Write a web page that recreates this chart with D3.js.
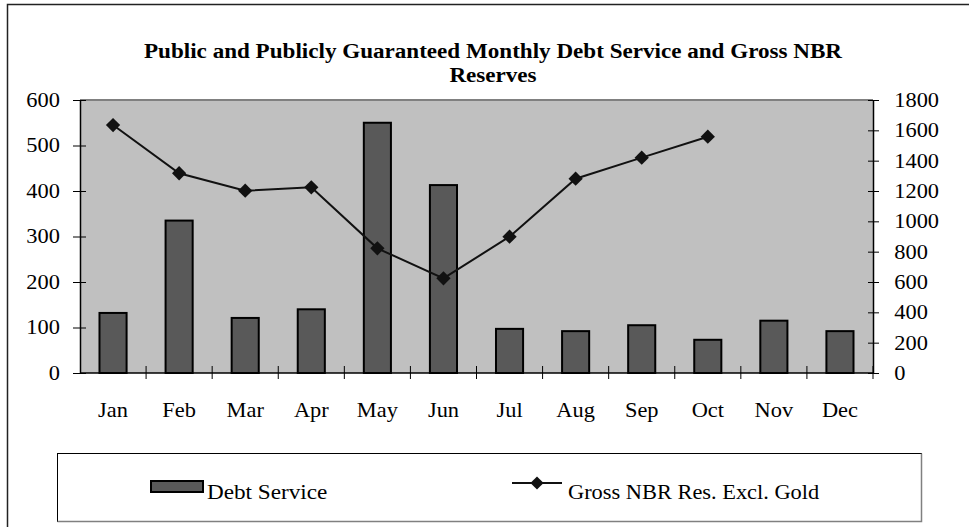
<!DOCTYPE html>
<html><head>
<meta charset="utf-8">
<script src="https://d3js.org/d3.v7.min.js"></script>
<style>
  body { margin: 0; background: #fff; }
  svg text { font-family: 'Liberation Serif', 'Times New Roman', serif; }
</style>
</head>
<body>
<svg id="chart" width="969" height="527"></svg>
<script>
// chart data
const months = ["Jan", "Feb", "Mar", "Apr", "May", "Jun", "Jul", "Aug", "Sep", "Oct", "Nov", "Dec"];
const debtService = [132, 335, 121, 140, 550, 413, 97, 92, 105, 73, 115, 92];
const reserves = [1635, 1317, 1202, 1224, 822, 624, 899, 1281, 1420, 1558, null, null];
const leftTicks = [0, 100, 200, 300, 400, 500, 600];
const rightTicks = [0, 200, 400, 600, 800, 1000, 1200, 1400, 1600, 1800];
const titleLines = ["Public and Publicly Guaranteed Monthly Debt Service and Gross NBR", "Reserves"];
const legendNames = ["Debt Service", "Gross NBR Res. Excl. Gold"];

let svg = d3.select("svg#chart");
let plot = {left: 80, right: 873, top: 100, bottom: 373};
let sx = 1.12; // text in the picture is a bit wide
let serif = "'Liberation Serif', 'Times New Roman', serif";

function serifText(sel, size) {
    return sel.attr("font-family", serif)
        .style("font-family", serif)
        .style("font-size", size + "px");
}

// outer frame (runs off the right/bottom of the picture)
svg.append("rect")
    .attr("x", 7.5).attr("y", 4.5)
    .attr("width", 1000).attr("height", 600)
    .attr("fill", "none").attr("stroke", "#222").attr("stroke-width", 1.5);

// title
titleLines.forEach((t, i) => {
    let tt = svg.append("g")
        .attr("transform", "translate(493," + (58 + i * 24) + ") scale(1.1,1)")
        .append("text")
        .attr("text-anchor", "middle")
        .style("font-weight", "bold")
        .text(t);
    serifText(tt, 21);
});

let x = d3.scaleBand().domain(months).range([plot.left, plot.right]);
let yLeft = d3.scaleLinear().domain([0, 600]).range([plot.bottom, plot.top]);
let yRight = d3.scaleLinear().domain([0, 1800]).range([plot.bottom, plot.top]);

// plot area
svg.append("rect")
    .attr("x", plot.left).attr("y", plot.top)
    .attr("width", plot.right - plot.left).attr("height", plot.bottom - plot.top)
    .attr("fill", "#c0c0c0");
svg.append("line")
    .attr("x1", plot.left).attr("x2", plot.right)
    .attr("y1", plot.top).attr("y2", plot.top)
    .attr("stroke", "#808080").attr("stroke-width", 2);

// bars
let barW = x.bandwidth() * 0.41;
svg.append("g").selectAll("rect")
    .data(months)
    .join("rect")
    .attr("x", (d) => x(d) + x.bandwidth() / 2 - barW / 2)
    .attr("y", (d, i) => yLeft(debtService[i]))
    .attr("width", barW)
    .attr("height", (d, i) => yLeft(0) - yLeft(debtService[i]))
    .attr("fill", "#595959")
    .attr("stroke", "#000")
    .attr("stroke-width", 2);

// axes
let leftAxis = svg.append("g")
    .attr("transform", "translate(" + plot.left + ",0)")
    .call(d3.axisLeft(yLeft).tickValues(leftTicks).tickSize(7).tickPadding(11).tickSizeOuter(0));
leftAxis.selectAll(".tick line").attr("x2", -7).attr("x1", 6);

let rightAxis = svg.append("g")
    .attr("transform", "translate(" + plot.right + ",0)")
    .call(d3.axisRight(yRight).tickValues(rightTicks).tickFormat(d3.format("d"))
        .tickSize(6).tickPadding(13).tickSizeOuter(0));
rightAxis.selectAll(".tick line").attr("x1", -5).attr("x2", 6);

let bottomAxis = svg.append("g")
    .attr("transform", "translate(0," + plot.bottom + ")")
    .call(d3.axisBottom(x).tickSize(0).tickPadding(30));
bottomAxis.select(".domain").remove();
svg.append("line")
    .attr("x1", plot.left).attr("x2", plot.right)
    .attr("y1", plot.bottom).attr("y2", plot.bottom)
    .attr("stroke", "#000").attr("stroke-width", 1.5);
svg.append("g").selectAll("line")
    .data(months.slice(1).concat(["end"]))
    .join("line")
    .attr("x1", (d) => d === "end" ? plot.right : x(d))
    .attr("x2", (d) => d === "end" ? plot.right : x(d))
    .attr("y1", plot.bottom - 7).attr("y2", plot.bottom + 6)
    .attr("stroke", "#000");

[leftAxis, rightAxis].forEach((a) => {
    a.select(".domain").attr("stroke-width", 1.5);
});
[leftAxis, rightAxis, bottomAxis].forEach((a) => {
    a.attr("font-family", serif);
    serifText(a.selectAll("text"), 20).attr("transform", "scale(" + sx + ",1)");
});

// line series
let pts = months.map((m, i) => ({m: m, v: reserves[i]})).filter((d) => d.v !== null);
let lineGen = d3.line()
    .x((d) => x(d.m) + x.bandwidth() / 2)
    .y((d) => yRight(d.v));
svg.append("path")
    .datum(pts)
    .attr("d", lineGen)
    .attr("fill", "none")
    .attr("stroke", "#111")
    .attr("stroke-width", 2);
let diamond = d3.symbol().type(d3.symbolDiamond2).size(130);
svg.append("g").selectAll("path")
    .data(pts)
    .join("path")
    .attr("transform", (d) => "translate(" + (x(d.m) + x.bandwidth() / 2) + "," + yRight(d.v) + ")")
    .attr("d", diamond)
    .attr("fill", "#111");

// legend
let lg = svg.append("g").attr("font-family", serif);
lg.append("rect")
    .attr("x", 57.5).attr("y", 453.5)
    .attr("width", 864).attr("height", 68)
    .attr("fill", "#fff").attr("stroke", "#000");
lg.append("polyline")
    .attr("points", "921.5,453.5 921.5,521.5 57.5,521.5")
    .attr("fill", "none").attr("stroke", "#808080").attr("stroke-width", 1.5);

lg.append("rect")
    .attr("x", 151).attr("y", 481)
    .attr("width", 52).attr("height", 11)
    .attr("fill", "#595959").attr("stroke", "#000").attr("stroke-width", 2);
serifText(lg.append("g")
    .attr("transform", "translate(207,499) scale(" + (sx + 0.04) + ",1)")
    .append("text").text(legendNames[0]), 20);

lg.append("line")
    .attr("x1", 512).attr("x2", 562)
    .attr("y1", 483).attr("y2", 483)
    .attr("stroke", "#111").attr("stroke-width", 2);
lg.append("path")
    .attr("transform", "translate(537,483)")
    .attr("d", d3.symbol().type(d3.symbolDiamond2).size(110))
    .attr("fill", "#111");
serifText(lg.append("g")
    .attr("transform", "translate(568,499) scale(" + sx + ",1)")
    .append("text").text(legendNames[1]), 20);
</script>
</body>
</html>
